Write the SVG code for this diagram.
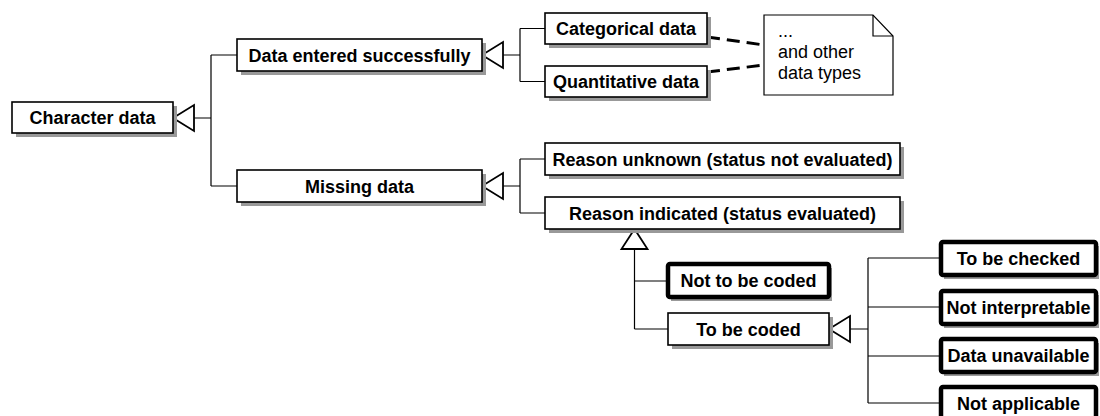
<svg xmlns="http://www.w3.org/2000/svg" width="1100" height="416" viewBox="0 0 1100 416">
<style>
.box{fill:#fff;stroke:#000;stroke-width:1.6}
.thick{fill:#fff;stroke:#000;stroke-width:4.5}
.sh{fill:#999}
.lbl{font-family:"Liberation Sans",Arial,sans-serif;font-size:18px;font-weight:bold;text-anchor:middle;fill:#000}
.note{font-family:"Liberation Sans",Arial,sans-serif;font-size:18px;fill:#000}
.ln{fill:none;stroke:#000;stroke-width:1.2}
.tri{fill:#fff;stroke:#000;stroke-width:1.8}
.dash{fill:none;stroke:#000;stroke-width:3;stroke-dasharray:13,7}
</style>
<rect width="1100" height="416" fill="#fff"/>
<g id="connectors">
<path class="ln" d="M194,118H211M211,55V186M211,55H237M211,186H237"/>
<polygon class="tri" points="173,118 194,105 194,131"/>
<path class="ln" d="M503,55H520M520,28.5V81.5M520,28.5H545M520,81.5H545"/>
<polygon class="tri" points="482,55 503,42 503,68"/>
<path class="ln" d="M503,186H520M520,159V213M520,159H545M520,213H545"/>
<polygon class="tri" points="482,186 503,173 503,199"/>
<path class="ln" d="M634.5,249V329M634.5,281H667M634.5,329H668"/>
<polygon class="tri" points="634.5,229 621.5,249 647.5,249"/>
<path class="ln" d="M850,329H868M868,258V403M868,258H940M868,307H940M868,356H940M868,403H940"/>
<polygon class="tri" points="829,329 850,316 850,342"/>
<path class="dash" d="M707,37L764,45"/>
<path class="dash" d="M707,72L764,65"/>
</g>
<g id="character-data">
<rect class="sh" x="16" y="106" width="161" height="31"/>
<rect class="box" x="12" y="102" width="161" height="31"/>
<text class="lbl" x="92.5" y="124">Character data</text>
</g>
<g id="data-entered">
<rect class="sh" x="241" y="43" width="245" height="32"/>
<rect class="box" x="237" y="39" width="245" height="32"/>
<text class="lbl" x="359.5" y="61.5">Data entered successfully</text>
</g>
<g id="categorical">
<rect class="sh" x="549" y="17" width="162" height="31"/>
<rect class="box" x="545" y="13" width="162" height="31"/>
<text class="lbl" x="626" y="35">Categorical data</text>
</g>
<g id="quantitative">
<rect class="sh" x="549" y="70" width="162" height="31"/>
<rect class="box" x="545" y="66" width="162" height="31"/>
<text class="lbl" x="626" y="88">Quantitative data</text>
</g>
<g id="note">
<path d="M764,15H873L893,36V95H764Z" fill="#fff" stroke="#000" stroke-width="1.2"/>
<path d="M873,15V36H893" fill="none" stroke="#000" stroke-width="1.2"/>
<text class="note" x="778" y="37">...</text>
<text class="note" x="778" y="58">and other</text>
<text class="note" x="778" y="79">data types</text>
</g>
<g id="missing-data">
<rect class="sh" x="241" y="174" width="245" height="32"/>
<rect class="box" x="237" y="170" width="245" height="32"/>
<text class="lbl" x="359.5" y="192.5">Missing data</text>
</g>
<g id="reason-unknown">
<rect class="sh" x="549" y="147" width="355" height="32"/>
<rect class="box" x="545" y="143" width="355" height="32"/>
<text class="lbl" x="722.5" y="165.5">Reason unknown (status not evaluated)</text>
</g>
<g id="reason-indicated">
<rect class="sh" x="549" y="201" width="355" height="32"/>
<rect class="box" x="545" y="197" width="355" height="32"/>
<text class="lbl" x="722.5" y="219.5">Reason indicated (status evaluated)</text>
</g>
<g id="not-to-be-coded">
<rect class="sh" x="671" y="268" width="161" height="33"/>
<rect class="thick" x="668" y="264" width="161" height="33" rx="2"/>
<text class="lbl" x="748.5" y="287">Not to be coded</text>
</g>
<g id="to-be-coded">
<rect class="sh" x="672" y="317" width="161" height="32"/>
<rect class="box" x="668" y="313" width="161" height="32"/>
<text class="lbl" x="748.5" y="335.5">To be coded</text>
</g>
<g id="to-be-checked">
<rect class="sh" x="944" y="246" width="155" height="33"/>
<rect class="thick" x="941" y="242" width="155" height="33" rx="2"/>
<text class="lbl" x="1018.5" y="265">To be checked</text>
</g>
<g id="not-interpretable">
<rect class="sh" x="944" y="295" width="155" height="33"/>
<rect class="thick" x="941" y="291" width="155" height="33" rx="2"/>
<text class="lbl" x="1018.5" y="314">Not interpretable</text>
</g>
<g id="data-unavailable">
<rect class="sh" x="944" y="343" width="155" height="33"/>
<rect class="thick" x="941" y="339" width="155" height="33" rx="2"/>
<text class="lbl" x="1018.5" y="362">Data unavailable</text>
</g>
<g id="not-applicable">
<rect class="thick" x="941" y="387" width="155" height="33" rx="2"/>
<text class="lbl" x="1018.5" y="410">Not applicable</text>
</g>
</svg>
